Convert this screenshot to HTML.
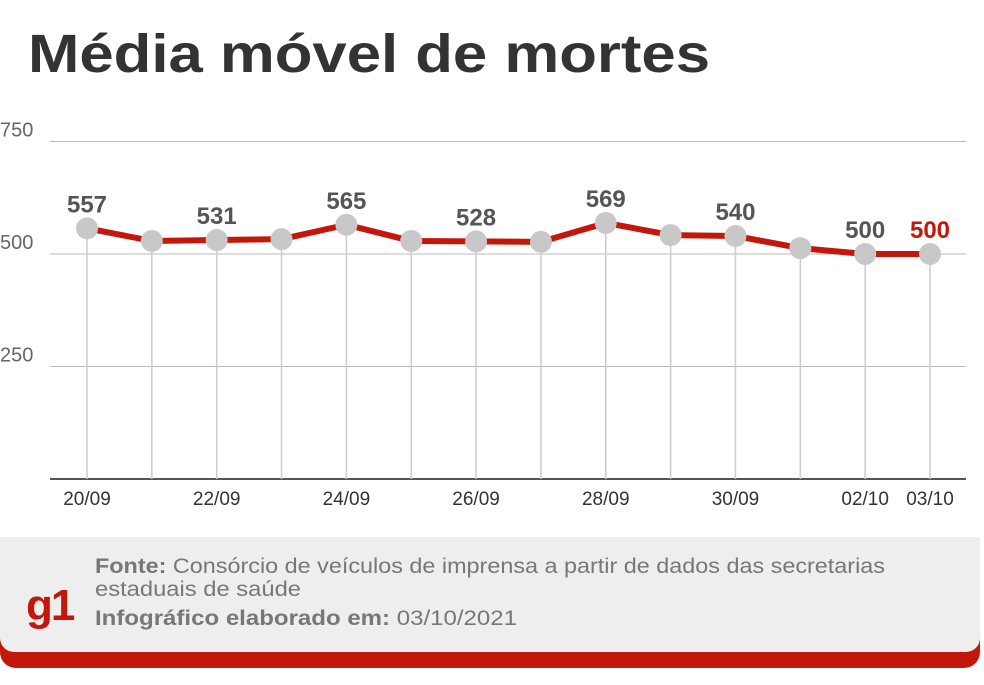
<!DOCTYPE html>
<html><head><meta charset="utf-8"><style>
body{margin:0;width:984px;height:680px;background:#fff;overflow:hidden;font-family:"Liberation Sans",sans-serif}
</style></head><body>
<svg width="984" height="680" xmlns="http://www.w3.org/2000/svg">
<text x="28" y="72" font-size="54" font-weight="bold" fill="#333" textLength="682" lengthAdjust="spacingAndGlyphs">Média móvel de mortes</text>
<g id="grid"></g>
<g id="marks"></g>
<g>
<rect x="0" y="590" width="980" height="78" rx="16" fill="#c4170c"/>
<rect x="0" y="537" width="980" height="115" rx="14" fill="#eeeeee"/>
<rect x="0" y="537" width="980" height="40" fill="#eeeeee"/>
<text x="26" y="620" font-size="44" font-weight="bold" fill="#c4170c" letter-spacing="-2">g1</text>
<text x="95" y="573" font-size="21" fill="#777" textLength="790" lengthAdjust="spacingAndGlyphs"><tspan font-weight="bold">Fonte:</tspan> Consórcio de veículos de imprensa a partir de dados das secretarias</text>
<text x="95" y="596" font-size="21" fill="#777" textLength="206" lengthAdjust="spacingAndGlyphs">estaduais de saúde</text>
<text x="95" y="625" font-size="21" fill="#777" textLength="422" lengthAdjust="spacingAndGlyphs"><tspan font-weight="bold">Infográfico elaborado em:</tspan> 03/10/2021</text>
</g>
</svg>
<script>
const categories=["20/09","21/09","22/09","23/09","24/09","25/09","26/09","27/09","28/09","29/09","30/09","01/10","02/10","03/10"];
const values=[557,529,531,533,565,529,528,527,569,542,540,513,500,500];
const labeled=[true,false,true,false,true,false,true,false,true,false,true,false,true,true];
const xTickLabels=["20/09","22/09","24/09","26/09","28/09","30/09","02/10","03/10"];
const yTicks=[250,500,750];
const ns="http://www.w3.org/2000/svg";
const x0=87,x1=930,yBase=479,yScale=0.45;
const X=i=>x0+(x1-x0)*i/(categories.length-1);
const Y=v=>yBase-v*yScale;
function mk(t,a,p){const e=document.createElementNS(ns,t);for(const k in a)e.setAttribute(k,a[k]);p.appendChild(e);return e;}
const grid=document.getElementById('grid'),marks=document.getElementById('marks');
yTicks.forEach(t=>{
 const l=mk('line',{x1:50,x2:966,y1:Y(t),y2:Y(t),stroke:'#bbb','stroke-width':1},grid);
 
 
 const tx=mk('text',{x:0,y:Y(t)-5,'font-size':20,fill:'#666'},grid);tx.textContent=t;
 
 
});
const ax=mk('line',{x1:50,x2:966,y1:yBase,y2:yBase,stroke:'#555','stroke-width':2},grid);


categories.forEach((c,i)=>{
 const l=mk('line',{x1:X(i),x2:X(i),y1:Y(values[i]),y2:yBase,stroke:'#ccc','stroke-width':1.5},grid);
 
 
 if(xTickLabels.includes(c)){
  const t=mk('text',{x:X(i),y:yBase+26,'font-size':19,fill:'#333','text-anchor':'middle'},grid);t.textContent=c;
  
  
 }
});
const p=mk('polyline',{points:values.map((v,i)=>X(i)+','+Y(v)).join(' '),fill:'none',stroke:'#c4170c','stroke-width':6,'stroke-linejoin':'round'},marks);


values.forEach((v,i)=>{
 const c=mk('circle',{cx:X(i),cy:Y(v),r:11,fill:'#c8c8c8'},marks);
 
 
 if(labeled[i]){
  const last=i===values.length-1;
  const t=mk('text',{x:X(i),y:Y(v)-16,'font-size':24,'font-weight':'bold',fill:last?'#c4170c':'#555','text-anchor':'middle'},marks);t.textContent=v;
  
  
 }
});
</script>
</body></html>
